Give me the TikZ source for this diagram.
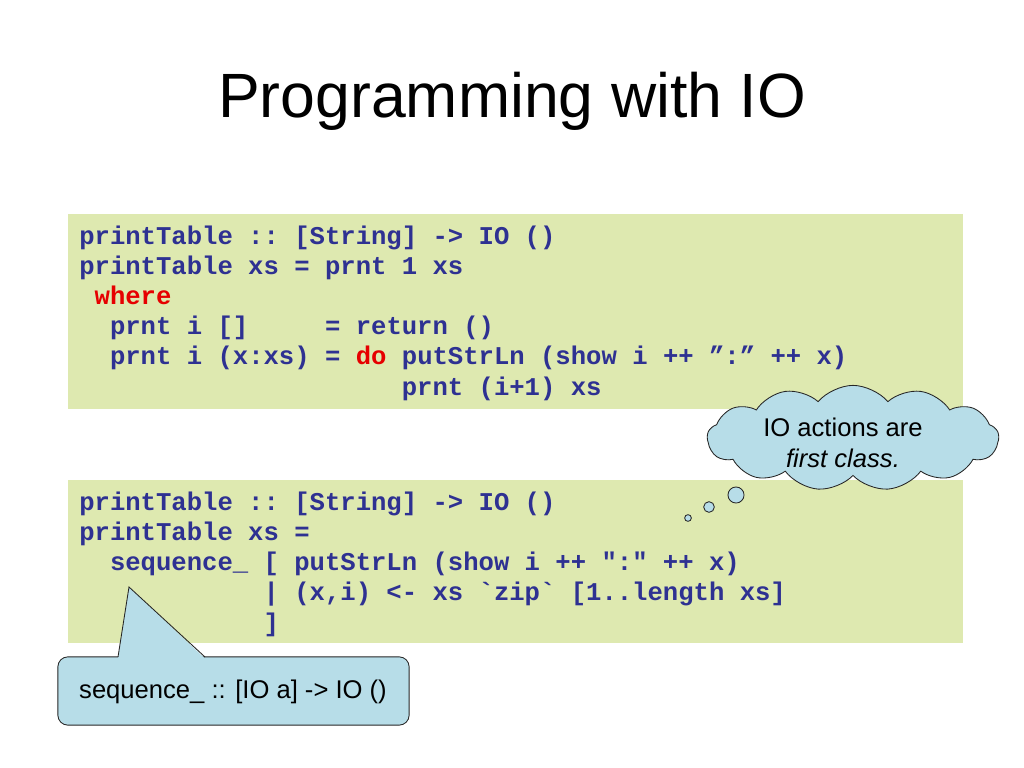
\documentclass[tikz,border=0pt]{standalone}
\usepackage{fontspec}
\setmainfont{Liberation Sans}
\setmonofont{Liberation Mono}
\usetikzlibrary{shapes.symbols}

\definecolor{codeblue}{RGB}{46,49,146}
\definecolor{keyred}{RGB}{230,0,0}
\definecolor{codebg}{RGB}{222,233,176}
\definecolor{notebg}{RGB}{183,221,232}

\newcommand\codegap[1]{\hspace*{#1\dimexpr0.6em\relax}}

\tikzset{
  codebox/.style={fill=codebg},
  codetext/.style={anchor=base west, inner sep=0pt, align=left, text=codeblue,
    font=\ttfamily\bfseries\fontsize{18}{21.1}\selectfont},
  notetext/.style={inner sep=0pt, align=center, font=\fontsize{18}{21.1}\selectfont},
  notefill/.style={fill=notebg, draw=black!85, line width=0.6pt},
  bubble/.style={notefill, circle, inner sep=0pt}
}

\begin{document}
\begin{tikzpicture}[x=0.703125pt,y=0.703125pt,yscale=-1,xscale=1]
\useasboundingbox (0,0) rectangle (1024,768);

% Title
\node[anchor=base, inner sep=0pt, font=\fontsize{44}{52}\selectfont] (title) at (512,118) {Programming with IO};

%Shape: Rectangle
\path[codebox] (68,214) rectangle (963,409);
% Text Node (base = last line)
\node[codetext] (codeA) at (79,395) {printTable :: [String] -> IO ()\\
printTable xs = prnt 1 xs\\
~\textcolor{keyred}{where}\\
~~prnt i []\codegap{5}= return ()\\
~~prnt i (x:xs) = \textcolor{keyred}{do} putStrLn (show i ++ ”:” ++ x)\\
\codegap{21}prnt (i+1) xs};

%Shape: Rectangle
\path[codebox] (68,480) rectangle (963,643);
% Text Node (base = last line)
\node[codetext] (codeB) at (79,631) {printTable :: [String] -> IO ()\\
printTable xs =\\
~~sequence\_ [ putStrLn (show i ++ ":" ++ x)\\
\codegap{12}| (x,i) <- xs `zip` [1..length xs]\\
\codegap{12}]};

%Shape: Cloud
\node[cloud, cloud puffs=13, cloud puff arc=100, cloud ignores aspect, notefill, minimum width=205pt, minimum height=74pt] (ioCloud) at (853,438) {};
\node[bubble, minimum size=11.3pt] (bubC) at (736,495) {};
\node[bubble, minimum size=7.5pt] (bubB) at (709,507) {};
\node[bubble, minimum size=4.7pt] (bubA) at (688,518) {};
% Text Node
\node[notetext, anchor=base] (ioNote) at (843,467) {IO actions are\\\textit{first class.}};

%Shape: Callout
\node[notefill, rounded corners=7pt, minimum width=247pt, minimum height=48pt] (seqNote) at (233.5,691) {};
\fill[notebg] (118,658.5) -- (129,587) -- (205,658.5) -- cycle;
\draw[draw=black!85, line width=0.6pt] (118,657) -- (129,587) -- (205,657);
% Text Node
\node[notetext] (seqText) at (233,692) {sequence\_ :: [IO a] -> IO ()};

\end{tikzpicture}
\end{document}
